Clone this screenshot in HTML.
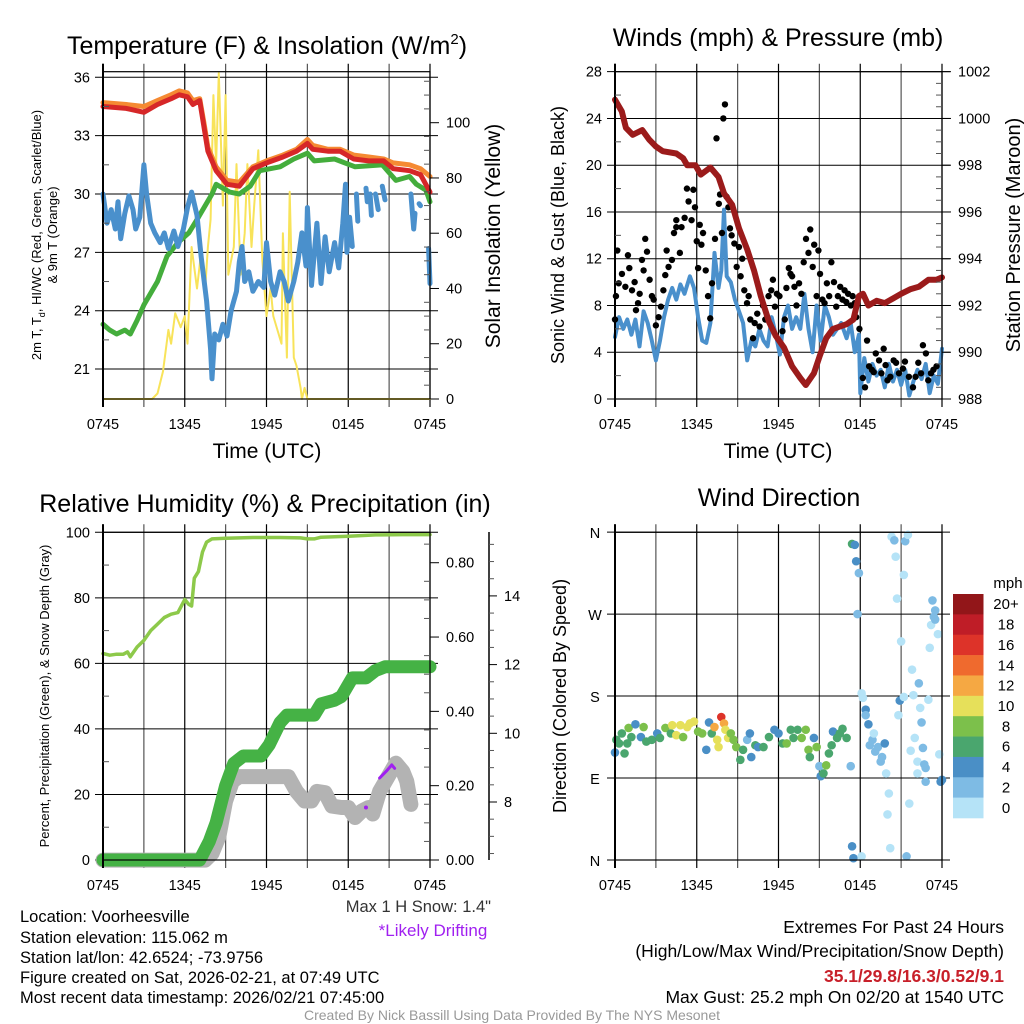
<!DOCTYPE html>
<html><head><meta charset="utf-8"><title>Mesonet Meteogram</title>
<style>
html,body{margin:0;padding:0;background:#fff;}
svg{display:block;font-family:"Liberation Sans",Arial,sans-serif;}
</style></head>
<body>
<svg id="chart" width="1024" height="1024" viewBox="0 0 1024 1024" xmlns="http://www.w3.org/2000/svg">
<rect x="0" y="0" width="1024" height="1024" fill="#fff"/>
<g id="grids"></g>
<g id="series"></g>
<g id="axes"></g>
<!-- titles -->
<text x="267" y="54" font-size="25" text-anchor="middle">Temperature (F) &amp; Insolation (W/m<tspan dy="-10" font-size="15">2</tspan><tspan dy="10">)</tspan></text>
<text x="778" y="46" font-size="25" text-anchor="middle">Winds (mph) &amp; Pressure (mb)</text>
<text x="265" y="512" font-size="25" text-anchor="middle">Relative Humidity (%) &amp; Precipitation (in)</text>
<text x="779" y="506" font-size="25" text-anchor="middle">Wind Direction</text>
<!-- axis titles -->
<text x="267" y="458" font-size="21" text-anchor="middle">Time (UTC)</text>
<text x="778" y="458" font-size="21" text-anchor="middle">Time (UTC)</text>
<text transform="translate(41,235) rotate(-90)" font-size="13" text-anchor="middle">2m T, T<tspan dy="4" font-size="9">d</tspan><tspan dy="-4">, HI/WC (Red, Green, Scarlet/Blue)</tspan></text>
<text transform="translate(57,235) rotate(-90)" font-size="13" text-anchor="middle">&amp; 9m T (Orange)</text>
<text transform="translate(500,236) rotate(-90)" font-size="21" text-anchor="middle">Solar Insolation (Yellow)</text>
<text transform="translate(564,235) rotate(-90)" font-size="18" text-anchor="middle">Sonic Wind &amp; Gust (Blue, Black)</text>
<text transform="translate(1020,235) rotate(-90)" font-size="20" text-anchor="middle">Station Pressure (Maroon)</text>
<text transform="translate(49,696) rotate(-90)" font-size="13" text-anchor="middle">Percent, Precipitation (Green), &amp; Snow Depth (Gray)</text>
<text transform="translate(566,696) rotate(-90)" font-size="18" text-anchor="middle">Direction (Colored By Speed)</text>
<!-- notes -->
<text x="491" y="912" font-size="16.5" fill="#333" text-anchor="end">Max 1 H Snow: 1.4"</text>
<text x="433" y="936" font-size="17" fill="#a020f0" text-anchor="middle">*Likely Drifting</text>
<g font-size="16.5">
<text x="20" y="922">Location: Voorheesville</text>
<text x="20" y="943">Station elevation: 115.062 m</text>
<text x="20" y="963">Station lat/lon: 42.6524; -73.9756</text>
<text x="20" y="983">Figure created on Sat, 2026-02-21, at 07:49 UTC</text>
<text x="20" y="1003">Most recent data timestamp: 2026/02/21 07:45:00</text>
</g>
<g font-size="17.5" text-anchor="end">
<text x="1004" y="933">Extremes For Past 24 Hours</text>
<text x="1004" y="957">(High/Low/Max Wind/Precipitation/Snow Depth)</text>
<text x="1004" y="982" fill="#c8202a" font-weight="bold">35.1/29.8/16.3/0.52/9.1</text>
<text x="1004" y="1003">Max Gust: 25.2 mph On 02/20 at 1540 UTC</text>
</g>
<text x="512" y="1020" font-size="14" fill="#999" text-anchor="middle">Created By Nick Bassill Using Data Provided By The NYS Mesonet</text>
</svg>
<script>
// ---------- DATA ----------
const xTickLabels = ["0745","1345","1945","0145","0745"];
// Panel 1: temperature (F)
const tempT = [0,1.7,3,4,5,5.6,6.2,6.6,7.1,7.4,7.7,8.3,9.1,10,11,12,13.2,14.2,15,15.4,16.5,17.4,18.4,19.5,20.6,21.3,22.5,23.3,24];
const tempV = [34.5,34.4,34.2,34.6,34.9,35.1,35.0,34.6,34.8,33.5,32.2,31.2,30.5,30.4,31.3,31.6,31.9,32.2,32.6,32.3,32.2,32.2,31.8,31.7,31.7,31.3,31.2,31.0,30.1];
const temp9mV = [34.7,34.6,34.5,34.8,35.1,35.3,35.2,34.8,34.9,33.7,32.4,31.4,30.7,30.6,31.4,31.7,32.0,32.3,32.8,32.5,32.3,32.3,32.0,31.9,31.8,31.6,31.5,31.3,30.9];
const dewT = [0,0.5,1,1.6,2,2.5,3,4,4.7,5.5,6.3,7,8,8.3,9.3,10,10.8,11.5,13,14,15,15.5,17,18.5,20.5,21,21.5,22.5,23,23.7,24];
const dewV = [23.3,23.0,22.8,23.0,22.8,23.5,24.3,25.5,26.8,27.5,28.0,28.8,30.0,30.5,30.1,30.0,30.4,31.2,31.4,31.8,32.1,31.7,31.8,31.4,31.5,31.1,30.7,30.9,30.5,30.2,29.6];
const wcT = [0,0.3,0.6,0.9,1.1,1.3,1.6,1.9,2.2,2.4,2.7,3.0,3.2,3.5,3.8,4.2,4.5,4.8,5.2,5.5,5.9,6.2,6.5,6.9,7.2,7.6,7.9,8.0,8.2,8.5,8.8,9.1,9.4,9.8,10.0,10.2,10.4,10.7,11,11.4,11.8,12,12.3,12.6,13,13.3,13.6,14,14.3,14.6,14.9,15.0,15.3,15.7,16,16.3,16.6,17,17.3,17.6,17.8,17.9,18.1,18.3,18.4,18.6,18.7,18.8,19.3,19.4,19.5,19.6,19.7,19.8,20.0,20.2,20.3,20.5,20.7,20.8,22.6,22.8,22.9,23.0,23.2,23.3,23.4,23.9,24.0];
const wcV = [30,28.5,29.2,28.2,29.6,27.7,29,29.9,29.2,28.2,28.8,31.5,30,28.5,28,27.5,28,27.2,28.1,27.3,28.2,29.3,30.1,28.9,26.8,24.5,22,20.5,22.8,22.5,23.3,22.7,24,25,26.5,27.3,25.5,26,25,25.5,25.2,27.5,25.5,24.8,26,25.5,24.5,25.5,26.5,28,26.3,29.3,25.3,28.5,25.4,27.8,26,27.5,26.2,28.5,30.5,27,28.8,27.3,null,30.0,28.6,null,30.3,29.6,null,30.0,28.9,null,30.0,29.2,null,30.4,29.7,null,30.0,28.2,29.0,null,29.5,29.4,null,27.2,25.4];
const insT = [0,3.6,4,4.4,4.8,5,5.3,5.7,6,6.2,6.5,6.9,7.2,7.5,7.7,7.9,8.1,8.3,8.5,8.8,9.0,9.2,9.6,9.8,10.1,10.4,10.6,10.9,11.1,11.4,11.7,12,12.3,12.5,12.8,13.1,13.2,13.5,13.7,14,14.2,14.5,14.6,14.8,15,24];
const insV = [0,0,2,10,25,20,31,26,30,20,55,40,53,40,55,65,110,85,118,70,110,45,55,85,45,60,85,55,70,90,50,30,40,30,25,20,60,15,75,15,12,4,0,4,0,0];
// Panel 2: winds (mph) & pressure (mb)
const presT = [0,0.5,0.8,1.3,2,2.5,3,3.5,4.5,5,5.3,5.9,6.3,7,7.6,8,8.6,9.1,9.7,10.2,10.7,11.3,11.8,12.4,13,13.6,14,14.6,15,15.5,16,17,17.5,17.9,18.2,18.6,19.2,19.8,20.4,21,21.7,22.3,23,23.6,24];
const presV = [1000.8,1000.3,999.6,999.3,999.5,999.1,998.8,998.6,998.5,998.3,998.0,998.0,997.6,997.9,997.5,996.8,996.3,995.3,994.4,993.5,992.4,991.3,990.7,990.2,989.4,988.9,988.6,989.1,989.8,990.6,991.0,991.2,991.4,992.4,992.5,992.0,992.2,992.1,992.3,992.5,992.7,992.8,993.1,993.1,993.2];
const sonicT = [0,0.3,0.6,0.9,1.2,1.5,1.8,2.1,2.4,2.7,3,3.3,3.6,3.9,4.2,4.5,4.8,5.1,5.5,5.8,6.1,6.4,6.7,7,7.3,7.6,7.8,8,8.2,8.5,8.8,9.1,9.4,9.7,10,10.3,10.6,10.9,11.2,11.5,11.8,12.1,12.4,12.7,13,13.3,13.6,13.9,14.2,14.5,14.8,15.1,15.4,15.7,16,16.3,16.6,17,17.3,17.6,17.9,18,18.3,18.6,18.9,19.2,19.5,19.8,20.1,20.4,20.7,21,21.3,21.6,21.9,22.2,22.5,22.8,23.1,23.4,23.7,24];
const sonicV = [5.3,7,6,6.8,5.5,6.8,4.5,7.5,6.5,5,3.3,5,7,8.5,9.5,8.5,9.8,9,10.5,9.5,7,5,4.8,6.5,12.5,9.5,11,16.2,10.5,10,8.5,7.5,6.5,3.3,5,4.5,6,5,4.5,7,5.5,3.8,7,8,6,7,6,9,6,4,8,5,8,7,5.5,6,6.5,5.2,6.5,4,5.5,0.5,3.5,1.5,3,2,2.5,1,3,1.5,2.5,1.2,2.5,0.3,1.5,2.5,1.7,3,0.5,2,1.3,4.3];
const gustT = [0,0.07,0.17,0.27,0.51,0.76,0.95,1.05,1.25,1.44,1.54,1.69,1.81,1.98,2.1,2.22,2.35,2.54,2.71,2.84,3.0,3.2,3.37,3.55,3.69,3.79,3.93,4.18,4.33,4.5,4.5,4.76,4.88,5.11,5.28,5.4,5.62,5.75,5.87,6.0,6.1,6.22,6.34,6.46,6.66,6.83,6.99,7.12,7.34,7.45,7.62,7.71,7.85,7.95,8.07,8.19,8.32,8.44,8.56,8.76,8.93,9.1,9.22,9.34,9.49,9.69,9.81,9.93,10.13,10.25,10.44,10.61,10.86,11.03,11.27,11.47,11.59,11.74,11.88,12.07,12.29,12.46,12.58,12.76,12.88,13.0,13.17,13.32,13.51,13.68,13.85,14.02,14.2,14.33,14.51,14.62,14.8,14.93,15.05,15.22,15.38,15.55,15.72,15.88,16.07,16.24,16.36,16.53,16.7,16.85,16.97,17.11,17.31,17.44,17.6,17.7,17.94,18.19,18.35,18.5,18.65,18.85,18.99,19.14,19.38,19.55,19.72,19.86,20.0,20.21,20.45,20.63,20.84,21.13,21.28,21.57,21.87,22.06,22.26,22.46,22.6,22.82,22.99,23.19,23.37,23.6];
const gustV = [6.8,8.8,12.7,9.9,10.7,9.6,12.3,11.2,9.3,10,7.6,8.2,9,11.9,11,13.7,12.6,10.2,8.8,8.5,6.3,7,7.9,9.3,10.6,12.7,11.3,11.9,14.2,15.3,14.7,12.5,14.7,15.5,18,16.9,15.3,17.9,16.4,13.5,11.2,14.9,13.2,14.2,11,8.8,6.9,9.9,13.7,22.3,16.7,17.5,14.2,24,25.2,17.3,16.4,14.6,14,13.3,11.3,13,10.5,12,9.3,8.2,8.8,6.8,5.2,6.5,7.3,6.2,8,6.8,8.8,9.3,10.2,7.9,9,8.8,5.8,6.8,9.5,11.2,10.7,10.5,9.6,8,9.9,9,11.7,13.7,12.5,14.5,11.3,13.2,8.8,12.7,10.7,8.5,8.2,9.9,8.8,11.7,10,7.9,8.8,9.6,8.5,9.3,8.3,9,8,8.8,8.2,7,6,1.8,1,5,2.8,2.5,2.3,3.9,3.3,2.2,4.3,2.9,1.6,1.9,3.3,3.1,2.2,2.6,3.2,1.9,1,1.9,3.1,2.2,4.6,3.9,1.6,2.2,2.5,2.8,5];
// Panel 3: RH (%), precip (in), snow depth (in)
const rhT = [0,0.5,1,1.5,1.8,2,2.5,3,3.5,4,4.5,5,5.5,6,6.3,6.5,6.7,7,7.3,7.6,8,9,11,13,14.5,15,15.5,16,18,20,22,24];
const rhV = [63,62.5,62.8,62.8,63.5,62,65,67,70,72,74,75,75.5,79.5,78,77.5,86,88,94,97,98,98.2,98.4,98.4,98.3,98,98,98.5,98.8,99.2,99.3,99.3];
const precipT = [0,7.1,7.8,8.3,9,9.6,10.3,11.6,12.2,13,13.5,15.5,16,17,17.5,18.3,19.3,20,20.7,24];
const precipV = [0,0,0.05,0.1,0.2,0.26,0.28,0.28,0.31,0.37,0.39,0.39,0.42,0.43,0.44,0.49,0.49,0.51,0.52,0.52];
const snowT = [0,7.5,8,8.5,9,9.5,10,13.6,14.2,14.8,15.3,15.7,16.3,16.8,17.5,18,18.5,19,19.5,19.8,20.3,21,21.5,22,22.3,22.6];
const snowV = [6.31,6.31,6.5,6.98,8.03,8.6,8.74,8.74,8.31,8.03,8.03,8.31,8.27,7.88,7.84,7.84,7.55,7.74,7.84,7.65,8.31,8.79,9.13,8.89,8.6,7.93];
const driftT = [20.3,20.8,21.2,21.4];
const driftV = [8.7,8.9,9.08,8.98];
const driftDotT = [19.3];
const driftDotV = [7.84];
// Panel 4: wind direction (deg) & speed (mph)
const dirT = [0,0.1,0.3,0.5,0.7,0.9,1,1.2,1.5,1.9,2.1,2.3,2.7,3.1,3.3,3.7,4.1,4.2,4.5,4.8,5,5.3,5.5,5.8,6.1,6.4,6.7,6.9,7.1,7.3,7.5,7.6,7.8,8.0,8.1,8.3,8.5,8.7,8.9,9.2,9.4,9.7,9.9,10,10.3,10.5,10.9,11.3,11.7,12,12.3,12.6,12.9,13.1,13.4,13.7,14,14.2,14.3,14.6,14.8,15,15.1,15.3,15.5,15.7,15.9,16,16.3,16.5,16.7,17,17.3,17.4,17.4,17.5,17.6,17.7,17.9,17.8,18.1,18.1,18.2,18.4,18.6,18.4,18.9,19,18.7,19.1,19.3,19.5,19.6,19.8,19.9,20.1,20,20.2,20.3,20.5,20.6,20.7,20.8,20.9,21,21.2,21.2,21.3,21.4,21.5,21.6,21.7,21.8,21.9,22,22.2,22.2,22.3,22.4,22.5,22.6,22.7,22.8,22.8,23,23.1,23.2,23.3,23.4,23.5,23.5,23.7,23.8,23.9,24];
const dirD = [118,132,128,139,117,128,145,135,149,135,146,130,132,139,134,145,139,148,137,148,135,146,150,152,141,139,121,151,139,146,132,124,157,150,143,134,139,132,124,110,121,132,139,113,126,124,124,135,143,139,128,128,143,134,143,134,143,121,113,134,124,103,92,95,104,117,126,141,134,139,144,134,103,15,347,2,346,328,315,270,4,183,178,165,149,159,132,139,126,119,124,108,113,128,95,73,50,13,355,351,333,287,159,175,240,313,179,350,4,357,62,120,209,181,134,108,95,194,167,151,123,105,101,86,176,233,258,285,267,264,274,248,116,86,88];
const dirS = [4,6,6,6,6,6,8,6,4,4,8,6,6,4,6,8,6,10,10,10,8,10,10,10,8,8,4,4,6,12,10,10,16,12,10,10,8,8,8,6,6,2,4,4,6,4,6,6,4,4,6,8,6,6,6,8,8,8,6,4,8,2,4,6,8,6,6,4,6,6,6,6,2,4,6,4,4,4,2,2,0,0,0,4,4,2,2,0,2,2,2,2,2,4,0,0,0,0,0,2,0,0,0,4,0,0,0,2,2,0,0,0,0,0,0,0,0,2,0,2,2,2,2,2,0,0,0,2,2,2,2,0,0,4,4];
const speedBinLabels = ["0","2","4","6","8","10","12","14","16","18","20+"];
const speedBinColors = ["#b5e3f7","#7ebbe4","#4a8fc6","#4aa66e","#7cc04b","#e6e05a","#f5a843","#ef6a2e","#dd3329","#bf1d27","#921619"];

// ---------- HELPERS ----------
const NS = 'http://www.w3.org/2000/svg';
const grids = document.getElementById('grids');
const series = document.getElementById('series');
const axes = document.getElementById('axes');
function mk(tag, attrs, parent) {
  const e = document.createElementNS(NS, tag);
  for (const k in attrs) e.setAttribute(k, attrs[k]);
  parent.appendChild(e);
  return e;
}
function pathFrom(ts, vs, xf, yf) {
  let d = '', pen = false;
  for (let i = 0; i < ts.length; i++) {
    if (vs[i] === null) { pen = false; continue; }
    d += (pen ? 'L' : 'M') + xf(ts[i]).toFixed(1) + ',' + yf(vs[i]).toFixed(1);
    pen = true;
  }
  return d;
}
function drawLine(ts, vs, xf, yf, color, w, name) {
  const el = mk('path', {d: pathFrom(ts, vs, xf, yf), fill: 'none', stroke: color, 'stroke-width': w, 'stroke-linejoin': 'round', 'stroke-linecap': 'round'}, series);
  
  
  return el;
}

// panel geometry
const P = {
  temp: {x0: 103, x1: 430, y0: 71.7, y1: 399},
  wind: {x0: 615, x1: 942, y0: 71.7, y1: 399},
  rh:   {x0: 103, x1: 430, y0: 532.3, y1: 860},
  dir:  {x0: 615, x1: 942, y0: 532.3, y1: 860}
};
function xScale(p) { return t => p.x0 + t * (p.x1 - p.x0) / 24; }

function frame(p, key, hLines) {
  for (let h = 0; h <= 24; h += 3) {
    const x = p.x0 + h * (p.x1 - p.x0) / 24;
    const g = mk('line', {x1: x, x2: x, y1: p.y0 - 8, y2: p.y1 + 8, stroke: (h % 6 === 0) ? '#000' : '#555', 'stroke-width': 1.2}, grids);
    
    
  }
  hLines.forEach(y => {
    const g = mk('line', {x1: p.x0 - 8, x2: p.x1 + 8, y1: y, y2: y, stroke: '#000', 'stroke-width': 1}, grids);
    
    
  });
  const b = mk('rect', {x: p.x0, y: p.y0, width: p.x1 - p.x0, height: p.y1 - p.y0, fill: 'none', stroke: '#000', 'stroke-width': 1.2}, axes);
  
  
  const lx = mk('line', {x1: p.x0, x2: p.x0, y1: p.y0 - 8, y2: p.y1 + 8, stroke: '#000', 'stroke-width': 2}, axes);
  
  
  xTickLabels.forEach((lab, i) => {
    const t = mk('text', {x: p.x0 + i * 6 * (p.x1 - p.x0) / 24, y: p.y1 + 30, 'font-size': 14.5, 'text-anchor': 'middle'}, axes);
    t.textContent = lab;
    
    
  });
}
function yLabels(p, key, vals, yf, fmt, side, dx) {
  vals.forEach(v => {
    const y = yf(v);
    const t = mk('text', {x: side === 'l' ? p.x0 - (dx || 14) : p.x1 + (dx || 14), y: y + 5, 'font-size': 14.5, 'text-anchor': side === 'l' ? 'end' : 'start'}, axes);
    t.textContent = fmt(v);
    
    
    if (side === 'r') {
      const tk = mk('line', {x1: p.x1, x2: p.x1 + 9, y1: y, y2: y, stroke: '#000', 'stroke-width': 1}, axes);
      
      
    }
  });
}
function minorTicks(p, key, vals, yf, side) {
  vals.forEach(v => {
    const y = yf(v);
    const x = side === 'l' ? p.x0 : p.x1;
    const tk = mk('line', {x1: x, x2: side === 'l' ? x + 6 : x - 6, y1: y, y2: y, stroke: '#555', 'stroke-width': 1}, axes);
    
    
  });
}

// ---------- PANEL 1 ----------
(function () {
  const p = P.temp, x = xScale(p);
  const yT = v => 77.3 + (36 - v) * 19.45;
  const yI = v => 399 - v * 2.763;
  const tTicks = [36, 33, 30, 27, 24, 21];
  frame(p, 'temp', tTicks.map(yT));
  yLabels(p, 'temp', tTicks, yT, v => String(v), 'l', 13);
  yLabels(p, 'insolation', [0, 20, 40, 60, 80, 100], yI, v => String(v), 'r', 16);
  minorTicks(p, 'temp', [34.5, 31.5, 28.5, 25.5, 22.5], yT, 'l');
  minorTicks(p, 'insolation', [5,10,15,25,30,35,45,50,55,65,70,75,85,90,95,105,110,115], yI, 'r');
  drawLine(insT, insV, x, yI, '#f8e35a', 2, 'insolation-line');
  drawLine(dewT, dewV, x, yT, '#44ad3c', 5, 'dewpoint-line');
  drawLine(wcT, wcV, x, yT, '#4a90cc', 5, 'windchill-line');
  drawLine(tempT, temp9mV, x, yT, '#f58a33', 5, 'temp-9m-line');
  drawLine(tempT, tempV, x, yT, '#d62728', 5, 'temp-2m-line');
})();

// ---------- PANEL 2 ----------
(function () {
  const p = P.wind, x = xScale(p);
  const yW = v => 399 - v * 11.69;
  const yP = v => 399 - (v - 988) * 23.38;
  const wTicks = [0, 4, 8, 12, 16, 20, 24, 28];
  frame(p, 'wind', wTicks.map(yW));
  yLabels(p, 'wind', wTicks, yW, v => String(v), 'l', 13);
  yLabels(p, 'pressure', [988, 990, 992, 994, 996, 998, 1000, 1002], yP, v => String(v), 'r', 16);
  minorTicks(p, 'wind', [2, 6, 10, 14, 18, 22, 26], yW, 'l');
  const pm = [];
  for (let v = 988.5; v < 1002; v += 0.5) if (v % 2 !== 0) pm.push(v);
  minorTicks(p, 'pressure', pm, yP, 'r');
  drawLine(sonicT, sonicV, x, yW, '#4a90cc', 4, 'sonic-wind-line');
  for (let i = 0; i < gustT.length; i++) {
    const c = mk('circle', {cx: x(gustT[i]), cy: yW(gustV[i]), r: 3.2, fill: '#000'}, series);
    
    
  }
  drawLine(presT, presV, x, yP, '#9b1b1b', 6, 'pressure-line');
})();

// ---------- PANEL 3 ----------
(function () {
  const p = P.rh, x = xScale(p);
  const yPct = v => 860 - v * 3.277;
  const yPr = v => 860 - v * 371.6;
  const ySn = v => 802 - (v - 8) * 34.35;
  const pTicks = [0, 20, 40, 60, 80, 100];
  frame(p, 'rh', pTicks.map(yPct));
  yLabels(p, 'rh', pTicks, yPct, v => String(v), 'l', 13);
  yLabels(p, 'precip', [0, 0.2, 0.4, 0.6, 0.8], yPr, v => v.toFixed(2), 'r', 16);
  minorTicks(p, 'rh', [10, 30, 50, 70, 90], yPct, 'l');
  minorTicks(p, 'precip', [0.05,0.1,0.15,0.25,0.3,0.35,0.45,0.5,0.55,0.65,0.7,0.75,0.85], yPr, 'r');
  const ax = mk('line', {x1: 489, x2: 489, y1: 532, y2: 860, stroke: '#000', 'stroke-width': 1.5}, axes);
  
  
  [8, 10, 12, 14].forEach(v => {
    const tk = mk('line', {x1: 489, x2: 497, y1: ySn(v), y2: ySn(v), stroke: '#000', 'stroke-width': 1}, axes);
    
    
    const t = mk('text', {x: 504, y: ySn(v) + 5, 'font-size': 14.5}, axes);
    t.textContent = String(v);
    
    
  });
  for (let v = 6.5; v <= 15.5; v += 0.5) {
    if (v % 2 === 0) continue;
    const tk = mk('line', {x1: 489, x2: 494, y1: ySn(v), y2: ySn(v), stroke: '#555', 'stroke-width': 1}, axes);
    
    
  }
  drawLine(rhT, rhV, x, yPct, '#8dc94a', 3.5, 'humidity-line');
  drawLine(snowT, snowV, x, ySn, '#b3b3b3', 15, 'snow-depth-line');
  drawLine(precipT, precipV, x, yPr, '#45b245', 13, 'precipitation-line');
  drawLine(driftT, driftV, x, ySn, '#a020f0', 3, 'drifting-line');
  for (let i = 0; i < driftDotT.length; i++) {
    const c = mk('circle', {cx: x(driftDotT[i]), cy: ySn(driftDotV[i]), r: 2, fill: '#a020f0'}, series);
    
    
  }
})();

// ---------- PANEL 4 ----------
(function () {
  const p = P.dir, x = xScale(p);
  const yD = d => 860 - d * 0.9108;
  const dTicks = [0, 90, 180, 270, 360];
  const dLabels = ['N', 'E', 'S', 'W', 'N'];
  frame(p, 'dir', dTicks.map(yD));
  dTicks.forEach((d, i) => {
    const t = mk('text', {x: p.x0 - 20, y: yD(d) + 6, 'font-size': 14.5, 'text-anchor': 'middle'}, axes);
    t.textContent = dLabels[i];
    
    
  });
  for (let i = 0; i < dirT.length; i++) {
    const bin = Math.min(10, Math.floor(dirS[i] / 2));
    const c = mk('circle', {cx: x(dirT[i]), cy: yD(dirD[i]), r: 4.3, fill: speedBinColors[bin]}, series);
    
    
  }
  const cb = mk('g', {}, axes);
  
  
  const bh = (818 - 594) / speedBinColors.length;
  for (let i = 0; i < speedBinColors.length; i++) {
    const j = speedBinColors.length - 1 - i;
    const r = mk('rect', {x: 953, y: 594 + i * bh, width: 30.5, height: bh + 0.3, fill: speedBinColors[j]}, cb);
    
    
    const t = mk('text', {x: 1006, y: 594 + i * bh + bh / 2 + 5, 'font-size': 15, 'text-anchor': 'middle'}, cb);
    t.textContent = speedBinLabels[j];
    
    
  }
  const u = mk('text', {x: 1008, y: 588, 'font-size': 15, 'text-anchor': 'middle'}, cb);
  u.textContent = 'mph';
  
  
})();
</script>
</body></html>
